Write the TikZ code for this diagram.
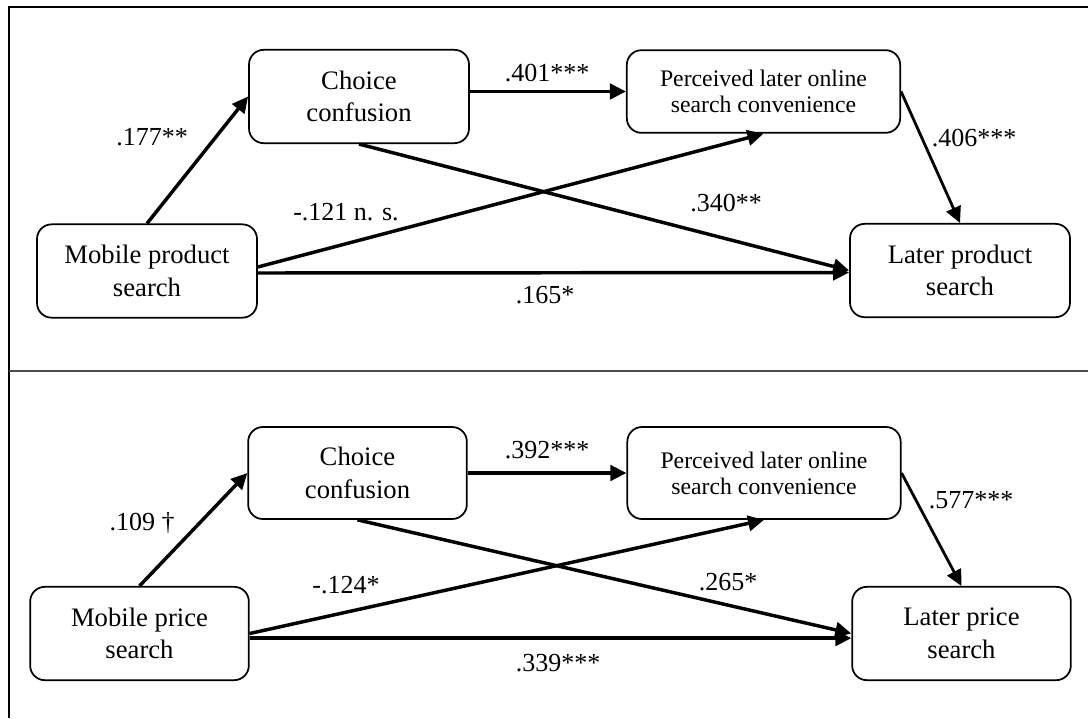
\documentclass[tikz,border=0pt]{standalone}
\usepackage{fontspec}
\setmainfont{Liberation Serif}
\usetikzlibrary{arrows.meta}

\begin{document}
\begin{tikzpicture}[x=.75pt,y=-.75pt,line width=2.6pt,
  box/.style={draw,line width=1.3pt,rounded corners=11pt,align=center,inner sep=0pt,
    minimum width=165pt,minimum height=70pt,font=\fontsize{20}{24.5}\selectfont},
  wbox/.style={box,minimum width=205pt,font=\fontsize{17.8}{19.5}\selectfont},
  eff/.style={-{Triangle[length=12pt,width=11.5pt]}},
  coef/.style={inner sep=0pt,font=\fontsize{19.5}{22}\selectfont}]
\useasboundingbox (0,0) rectangle (1088,718);
\draw[line width=1.9pt] (1088,7)--(9,7)--(9,718);
\draw[line width=1.1pt,black!70] (9,371)--(1088,371);

\node[box] (m1) at (147,271) {Mobile product\\search};
\node[box] (c1) at (359,96.5) {Choice\\confusion};
\node[wbox,minimum height=62pt] (p1) at (763.5,91.5) {Perceived later online\\search convenience};
\node[box] (l1) at (960,270.5) {Later product\\search};
\draw[eff] (m1.north)--(c1.west);
\draw[eff] (c1.east|-p1.west)--(p1.west);
\draw[eff,line width=2.1pt] (p1.east)--(l1.north);
\draw[eff] (c1.south)--(l1.west);
\draw[eff] ([yshift=3pt]m1.east)--(p1.south);
\draw[eff] ([yshift=-1.5pt]m1.east)--([yshift=-1.5pt]l1.west);
\node[coef] (a1) at (152,137) {.177**};
\node[coef] (b1) at (547,73) {.401***};
\node[coef] (e1) at (974,138) {.406***};
\node[coef] (d1) at (726,203) {.340**};
\node[coef] (f1) at (346,212) {-.121 n. s.};
\node[coef] (g1) at (545,295) {.165*};

\node[box,minimum width=164pt] (m2) at (139.5,633.5) {Mobile price\\search};
\node[box,minimum width=164pt,minimum height=69pt] (c2) at (357.5,473) {Choice\\confusion};
\node[wbox,minimum height=69pt] (p2) at (764,473) {Perceived later online\\search convenience};
\node[box,minimum width=164pt] (l2) at (961.5,633.5) {Later price\\search};
\draw[eff] (m2.north)--(c2.west);
\draw[eff] (c2)--(p2);
\draw[eff,line width=2.1pt] (p2.east)--(l2.north);
\draw[eff] (c2.south)--(l2.west);
\draw[eff] (m2.east)--(p2.south);
\draw[eff] ([yshift=-3.5pt]m2.east)--([yshift=-3.5pt]l2.west);
\node[coef] (a2) at (142,523) {.109 †};
\node[coef] (b2) at (547,450) {.392***};
\node[coef] (e2) at (971,500) {.577***};
\node[coef] (d2) at (728,582) {.265*};
\node[coef] (f2) at (346,585) {-.124*};
\node[coef] (g2) at (558,663) {.339***};
\end{tikzpicture}
\end{document}
